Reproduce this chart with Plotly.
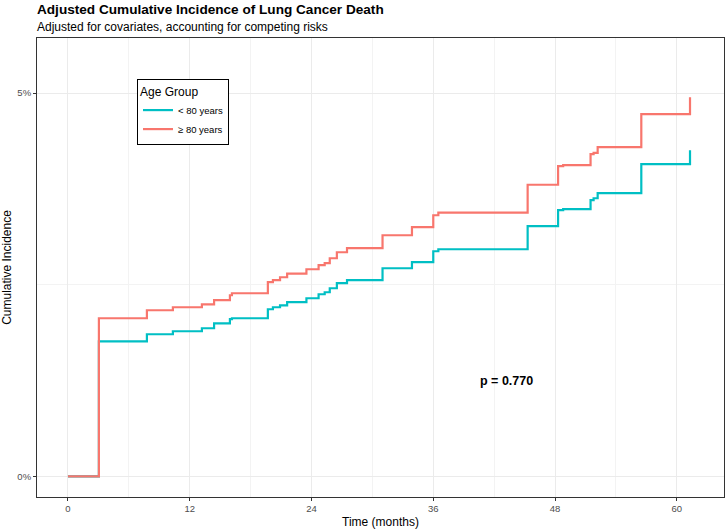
import plotly.graph_objects as go

# Event times (months) shared by both groups
times = [0, 3.05, 7.78, 10.34, 13.2, 14.4, 15.96, 16.16, 19.7, 20.2, 20.9, 21.6,
         23.5, 24.7, 25.3, 25.8, 26.5, 27.5, 31.0, 33.9, 36.0, 36.5, 45.3, 48.3,
         48.8, 51.5, 51.8, 52.2, 56.5, 61.3]

# Cumulative incidence (%) for age < 80 years
ci_under80 = [0, 1.762, 1.854, 1.893, 1.932, 1.997, 2.05, 2.063, 2.18, 2.206, 2.232, 2.272,
              2.324, 2.376, 2.402, 2.454, 2.52, 2.559, 2.715, 2.794, 2.937, 2.963, 3.264, 3.473,
              3.486, 3.603, 3.629, 3.695, 4.073, 4.256]

# Cumulative incidence (%) for age >= 80 years
ci_over80 = [0, 2.063, 2.167, 2.206, 2.245, 2.298, 2.363, 2.389, 2.533, 2.559, 2.598, 2.644,
             2.702, 2.755, 2.781, 2.846, 2.924, 2.977, 3.146, 3.251, 3.407, 3.44, 3.805, 4.047,
             4.06, 4.204, 4.22, 4.295, 4.726, 4.948]

group_names = ["< 80 years", "≥ 80 years"]
group_colors = ["#00BFC4", "#F8766D"]

x_ticks = [0, 12, 24, 36, 48, 60]
y_ticks = [0, 5]
y_tick_labels = ["0%", "5%"]

title_text = "Adjusted Cumulative Incidence of Lung Cancer Death"
subtitle_text = "Adjusted for covariates, accounting for competing risks"
p_label = "p = 0.770"

FONT = "Liberation Sans, Arial"

fig = go.Figure()
for name, vals, col in zip(group_names, [ci_under80, ci_over80], group_colors):
    fig.add_trace(go.Scatter(
        x=times, y=vals, mode="lines", name=name,
        line=dict(color=col, width=2.2, shape="hv"),
    ))

fig.add_annotation(x=43.25, y=1.24, text="<b>" + p_label + "</b>", showarrow=False,
                   font=dict(size=12.5, color="black", family=FONT))

fig.add_annotation(xref="paper", yref="paper", x=-2 / 687, y=1 + 38 / 459,
                   xanchor="left", yanchor="top", showarrow=False,
                   text="<b>" + title_text + "</b>",
                   font=dict(size=13.6, color="black", family=FONT))
fig.add_annotation(xref="paper", yref="paper", x=-2 / 687, y=1 + 20 / 459,
                   xanchor="left", yanchor="top", showarrow=False,
                   text=subtitle_text,
                   font=dict(size=12, color="black", family=FONT))

fig.update_layout(
    width=726, height=531,
    margin=dict(l=37, r=2, t=38, b=34, autoexpand=False),
    plot_bgcolor="white", paper_bgcolor="white",
    font=dict(family=FONT, color="black"),
    legend=dict(
        title=dict(text="Age Group", font=dict(size=12)),
        font=dict(size=9.5),
        x=0.1456, y=0.9107, xanchor="left", yanchor="top",
        bordercolor="black", borderwidth=1, bgcolor="white",
        tracegroupgap=0, itemwidth=30,
    ),
    xaxis=dict(
        range=[-3.05, 64.65], tickvals=x_ticks, ticktext=[str(v) for v in x_ticks],
        showgrid=True, gridcolor="#ebebeb", gridwidth=1, automargin=False,
        minor=dict(dtick=6, tick0=0, showgrid=True, gridcolor="#f3f3f3", gridwidth=1),
        zeroline=False, showline=True, linecolor="#333333", linewidth=1, mirror=True,
        ticks="outside", ticklen=3, tickcolor="#333333",
        tickfont=dict(size=9.5, color="#4d4d4d"),
        title=dict(text="Time (months)", font=dict(size=12), standoff=4),
    ),
    yaxis=dict(
        range=[-0.27, 5.72], tickvals=y_ticks, ticktext=y_tick_labels,
        showgrid=True, gridcolor="#ebebeb", gridwidth=1, automargin=False,
        minor=dict(tickvals=[2.5], showgrid=True, gridcolor="#f3f3f3", gridwidth=1),
        zeroline=False, showline=True, linecolor="#333333", linewidth=1, mirror=True,
        ticks="outside", ticklen=3, tickcolor="#333333",
        tickfont=dict(size=9.5, color="#4d4d4d"),
        title=dict(text="Cumulative Incidence", font=dict(size=12), standoff=9),
    ),
)

fig.write_html("out.html")
